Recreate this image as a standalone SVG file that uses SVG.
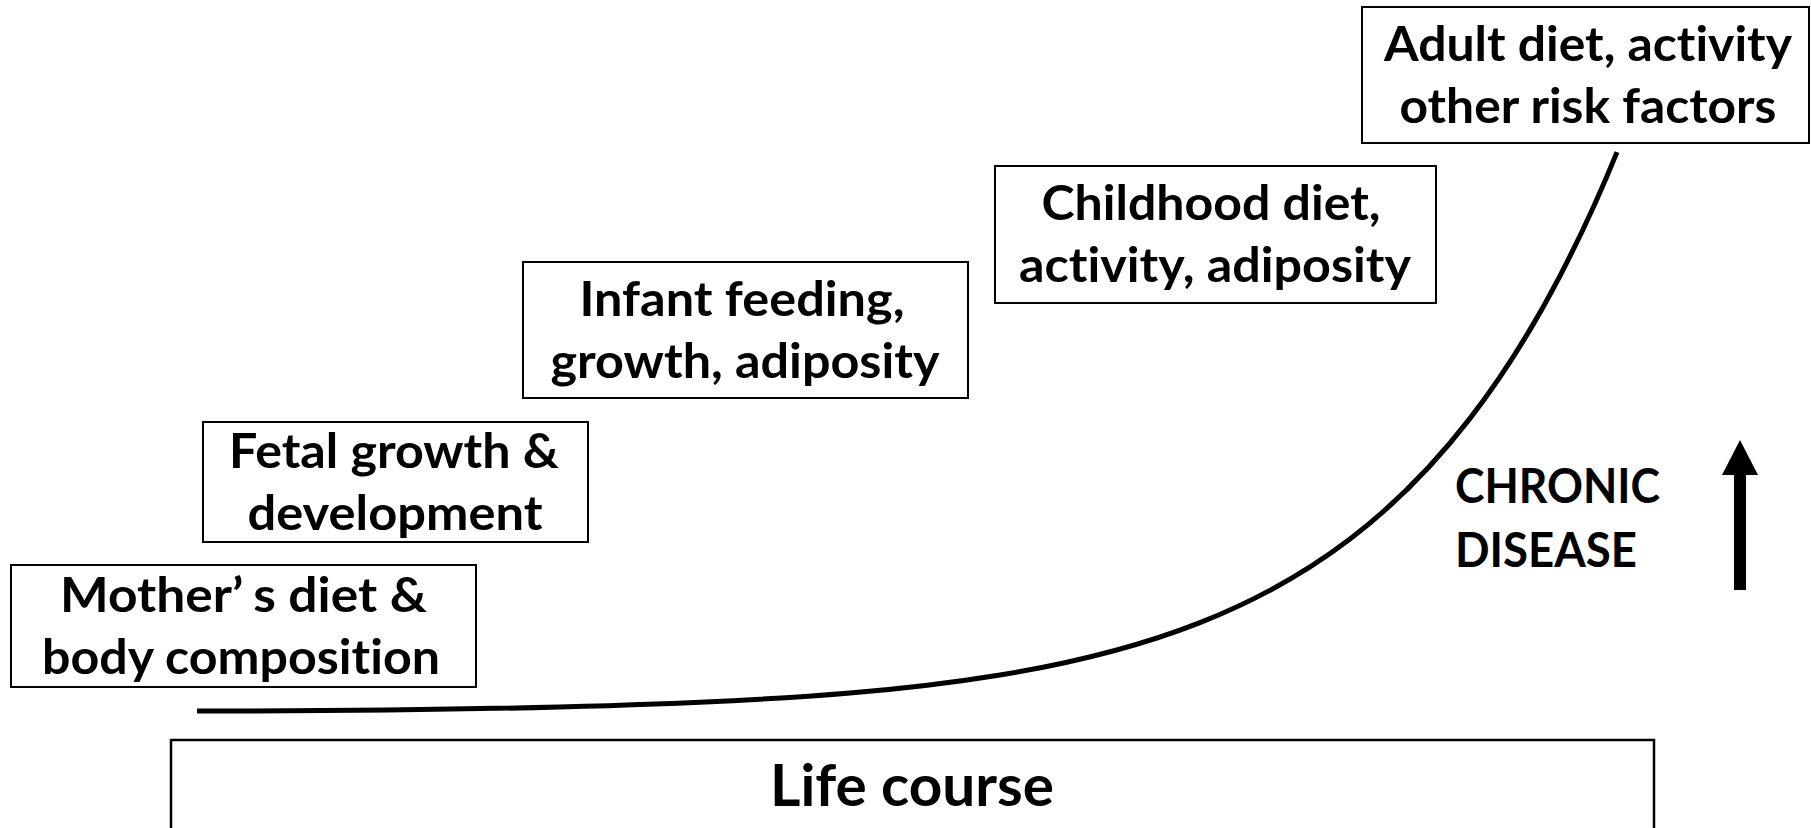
<svg xmlns="http://www.w3.org/2000/svg" width="1811" height="828" viewBox="0 0 1811 828">
  <style>
    .box { fill: #ffffff; stroke: #000000; stroke-width: 2; }
    .lbl { font-family: Lato, "Liberation Sans", sans-serif; font-weight: 700; font-size: 47px; fill: #000000; font-variant-ligatures: none; font-feature-settings: "liga" 0, "clig" 0; }
    .mid { text-anchor: middle; }
    .big { font-size: 57px; }
    .curve { fill: none; stroke: #000000; stroke-width: 5; stroke-linecap: butt; }
  </style>
  <rect x="0" y="0" width="1811" height="828" fill="#ffffff"/>

  <!-- rising risk curve (exponential-like rise over the life course) -->
  <g id="connectors">
    <path class="curve" d="M197,711 C364.7,711 532.3,709.5 700,702.2 C800,697.8 900,691.3 1000,675 C1066.7,664.1 1133.3,648.8 1200,622.6 C1250,602.9 1300,577.1 1350,539 C1390,508.5 1430,470.1 1470,418.4 C1500,379.6 1530,333.4 1560,275.8 C1579,239.3 1598,198.9 1617,152.1"/>
  </g>

  <g id="mother">
    <rect class="box" x="11" y="565" width="465" height="122"/>
    <text class="lbl" x="60" y="612" textLength="367" lengthAdjust="spacingAndGlyphs">Mother’<tspan dx="10">s diet &amp;</tspan></text>
    <text class="lbl mid" x="241" y="674" textLength="398" lengthAdjust="spacingAndGlyphs">body composition</text>
  </g>

  <g id="fetal">
    <rect class="box" x="203" y="422" width="385" height="120"/>
    <text class="lbl mid" x="394" y="468" textLength="330" lengthAdjust="spacingAndGlyphs">Fetal growth &amp;</text>
    <text class="lbl mid" x="395" y="530" textLength="295" lengthAdjust="spacingAndGlyphs">development</text>
  </g>

  <g id="infant">
    <rect class="box" x="523" y="262" width="445" height="136"/>
    <text class="lbl mid" x="742" y="316" textLength="325" lengthAdjust="spacingAndGlyphs">Infant feeding,</text>
    <text class="lbl mid" x="745" y="378" textLength="389" lengthAdjust="spacingAndGlyphs">growth, adiposity</text>
  </g>

  <g id="childhood">
    <rect class="box" x="995" y="166" width="441" height="137"/>
    <text class="lbl mid" x="1211" y="220" textLength="339" lengthAdjust="spacingAndGlyphs">Childhood diet,</text>
    <text class="lbl mid" x="1215" y="282" textLength="392" lengthAdjust="spacingAndGlyphs">activity, adiposity</text>
  </g>

  <g id="adult">
    <rect class="box" x="1362" y="7" width="447" height="136"/>
    <text class="lbl mid" x="1588" y="61" textLength="408" lengthAdjust="spacingAndGlyphs">Adult diet, activity</text>
    <text class="lbl mid" x="1588" y="123" textLength="377" lengthAdjust="spacingAndGlyphs">other risk factors</text>
  </g>

  <g id="chronic-disease">
    <text class="lbl" x="1455" y="503" textLength="205" lengthAdjust="spacingAndGlyphs">CHRONIC</text>
    <text class="lbl" x="1455" y="567" textLength="182" lengthAdjust="spacingAndGlyphs">DISEASE</text>
    <rect x="1734" y="473" width="12" height="117" fill="#000000"/>
    <polygon points="1740,440 1758,475 1722,475" fill="#000000"/>
  </g>

  <g id="life-course">
    <rect class="box" x="171" y="740" width="1483" height="100" style="stroke-width:2.5"/>
    <text class="lbl mid big" x="912" y="806" textLength="284" lengthAdjust="spacingAndGlyphs">Life course</text>
  </g>
</svg>
